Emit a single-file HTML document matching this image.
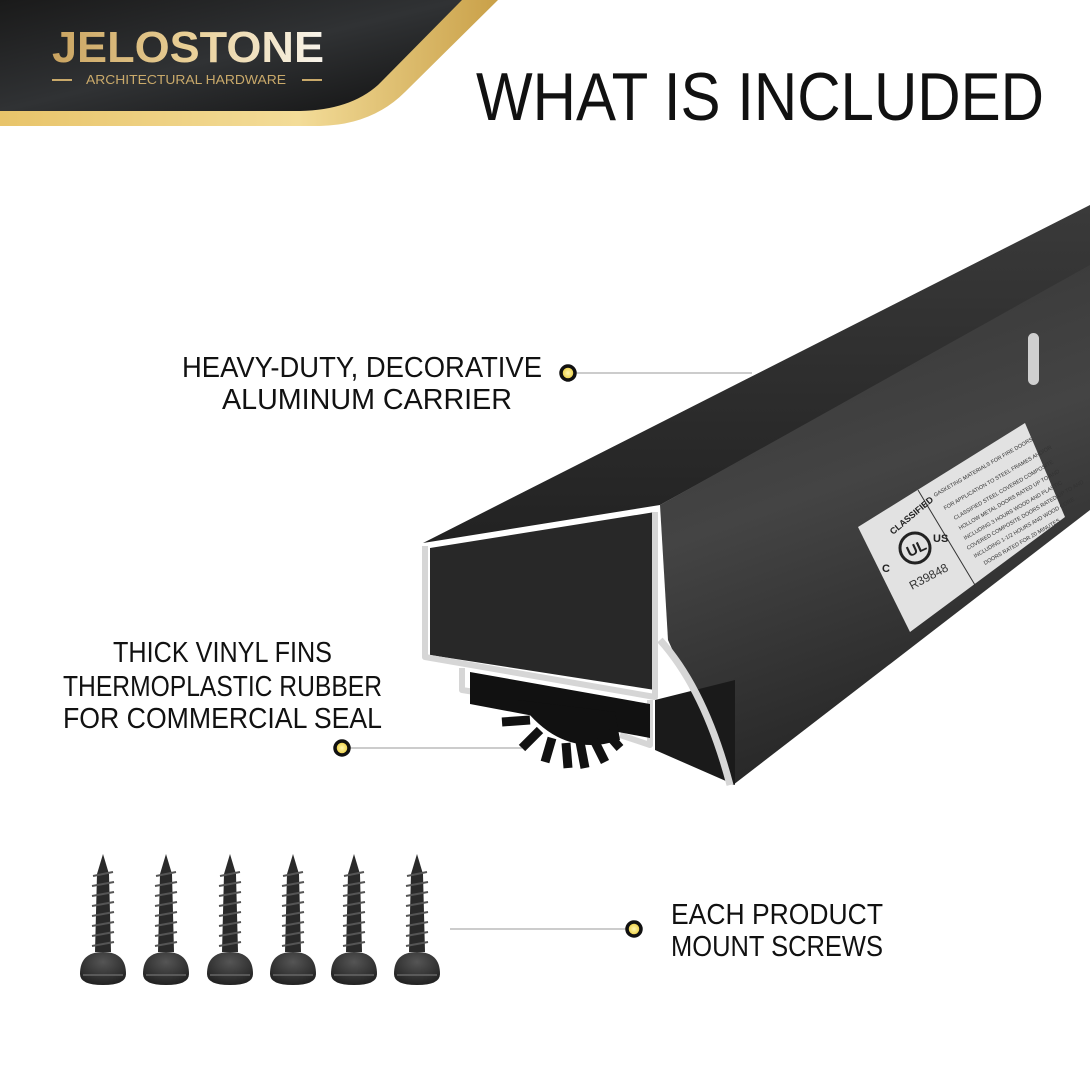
<!DOCTYPE html>
<html><head><meta charset="utf-8"><style>
html,body{margin:0;padding:0;background:#fff;}
svg{display:block;}
text{font-family:"Liberation Sans",sans-serif;}
</style></head><body>
<svg width="1090" height="1090" viewBox="0 0 1090 1090" xmlns="http://www.w3.org/2000/svg">
<defs>
<linearGradient id="gold" x1="0" y1="0" x2="1" y2="0"><stop offset="0" stop-color="#e8c46a"/><stop offset="0.6" stop-color="#f3dc98"/><stop offset="1" stop-color="#c9a048"/></linearGradient>
<linearGradient id="blk" x1="0" y1="0" x2="1" y2="1"><stop offset="0" stop-color="#1a1a1a"/><stop offset="0.5" stop-color="#303234"/><stop offset="1" stop-color="#111"/></linearGradient>
<linearGradient id="logo" x1="0" y1="0" x2="1" y2="0"><stop offset="0" stop-color="#c9a360"/><stop offset="0.5" stop-color="#e9cf96"/><stop offset="1" stop-color="#f8f4ec"/></linearGradient>
<linearGradient id="flap" x1="0" y1="0" x2="0.3" y2="1"><stop offset="0" stop-color="#333"/><stop offset="0.5" stop-color="#444"/><stop offset="1" stop-color="#262626"/></linearGradient>
<linearGradient id="back" x1="0" y1="0" x2="0" y2="1"><stop offset="0" stop-color="#3a3a3a"/><stop offset="1" stop-color="#222"/></linearGradient>
<radialGradient id="dot"><stop offset="0" stop-color="#fff6b0"/><stop offset="1" stop-color="#e8c830"/></radialGradient>
<radialGradient id="head" cx="0.5" cy="0.3" r="0.7"><stop offset="0" stop-color="#555"/><stop offset="1" stop-color="#222"/></radialGradient>
<g id="screw">
<path d="M0,-118 L-6,-98 L-8,-20 L8,-20 L6,-98 Z" fill="#2a2a2a"/>
<g stroke="#555" stroke-width="2">
<line x1="-10" y1="-96" x2="10" y2="-100"/><line x1="-11" y1="-86" x2="11" y2="-90"/><line x1="-11" y1="-76" x2="11" y2="-80"/><line x1="-11" y1="-66" x2="11" y2="-70"/><line x1="-11" y1="-56" x2="11" y2="-60"/><line x1="-11" y1="-46" x2="11" y2="-50"/><line x1="-11" y1="-36" x2="11" y2="-40"/><line x1="-11" y1="-26" x2="11" y2="-30"/>
</g>
<path d="M-23,2 Q-23,-20 0,-20 Q23,-20 23,2 Q23,13 0,13 Q-23,13 -23,2 Z" fill="url(#head)"/>
<line x1="-20" y1="3" x2="20" y2="3" stroke="#666" stroke-width="1.5"/>
</g>
</defs>

<!-- banner -->
<path d="M0,0 L498,0 L405,92 Q372,125 320,126 L0,126 Z" fill="url(#gold)"/>
<path d="M0,0 L462,0 L378,85 Q350,110 300,111 L0,111 Z" fill="url(#blk)"/>
<text x="52" y="62" font-size="44" font-weight="bold" fill="url(#logo)" textLength="272" lengthAdjust="spacingAndGlyphs">JELOSTONE</text>
<text x="86" y="84" font-size="13" fill="#c9a96a" textLength="200" lengthAdjust="spacingAndGlyphs">ARCHITECTURAL HARDWARE</text>
<line x1="52" y1="80" x2="72" y2="80" stroke="#c9a96a" stroke-width="2"/>
<line x1="302" y1="80" x2="322" y2="80" stroke="#c9a96a" stroke-width="2"/>

<text x="476" y="120" font-size="68" fill="#111" textLength="568" lengthAdjust="spacingAndGlyphs">WHAT IS INCLUDED</text>

<!-- product -->
<polygon points="423,543 1090,205 1090,268 660,505" fill="url(#back)"/>
<polygon points="430,548 655,512 655,690 430,655" fill="#282828"/>
<polygon points="660,505 1090,265 1090,510 733,785 668,640" fill="url(#flap)"/>
<polygon points="655,700 735,680 735,785 655,750" fill="#1a1a1a"/>
<rect x="1028" y="333" width="11" height="52" rx="5.5" fill="#cfcfcf"/>
<!-- label -->
<polygon points="858,527 1025,423 1065,517 910,632" fill="#e2e2e2"/>
<line x1="918" y1="490" x2="975" y2="585" stroke="#333" stroke-width="1"/>
<circle cx="915" cy="548" r="15" fill="none" stroke="#222" stroke-width="3"/>
<text x="906" y="554" font-size="15" font-weight="bold" fill="#222" transform="rotate(-25 915 548)">UL</text>
<text x="893" y="535" font-size="9" font-weight="bold" fill="#222" transform="rotate(-40 893 535)">CLASSIFIED</text>
<text x="933" y="542" font-size="11" font-weight="bold" fill="#222">US</text>
<text x="882" y="572" font-size="11" font-weight="bold" fill="#222">C</text>
<text x="912" y="590" font-size="12" fill="#333" transform="rotate(-28 912 590)">R39848</text>
<g font-size="5.5" fill="#333" font-family="Liberation Serif">
<text x="935" y="497" transform="rotate(-30 935 497)">GASKETING MATERIALS FOR FIRE DOORS</text>
<text x="945" y="510" transform="rotate(-30 945 510)">FOR APPLICATION TO STEEL FRAMES AND/OR</text>
<text x="955" y="520" transform="rotate(-30 955 520)">CLASSIFIED STEEL COVERED COMPOSITE</text>
<text x="960" y="530" transform="rotate(-30 960 530)">HOLLOW METAL DOORS RATED UP TO AND</text>
<text x="965" y="540" transform="rotate(-30 965 540)">INCLUDING 3 HOURS WOOD AND PLASTIC</text>
<text x="968" y="550" transform="rotate(-30 968 550)">COVERED COMPOSITE DOORS RATED UP TO AND</text>
<text x="975" y="558" transform="rotate(-30 975 558)">INCLUDING 1-1/2 HOURS AND WOOD CORE</text>
<text x="985" y="565" transform="rotate(-30 985 565)">DOORS RATED FOR 20 MINUTES</text>
</g>
<!-- cross section outline -->
<g fill="none" stroke="#d6d6d6" stroke-width="6" stroke-linejoin="round">
<path d="M425,546 L425,657 L655,697 L655,512"/>
<path d="M462,668 L462,690 L525,700"/>
<path d="M620,735 L650,745 L650,700"/>
<path d="M660,640 Q705,690 730,785" stroke-width="7"/>
</g>
<!-- rubber fins -->
<path d="M470,672 L650,704 L650,738 L470,704 Z" fill="#111"/>
<path d="M518,700 Q560,760 620,740 L615,712 Z" fill="#111"/>
<g stroke="#111" stroke-width="9" stroke-linecap="butt">
<line x1="530" y1="720" x2="502" y2="722"/>
<line x1="540" y1="730" x2="522" y2="748"/>
<line x1="552" y1="738" x2="545" y2="762"/>
<line x1="566" y1="743" x2="568" y2="768"/>
<line x1="580" y1="742" x2="585" y2="768"/>
<line x1="594" y1="740" x2="605" y2="762"/>
<line x1="606" y1="732" x2="620" y2="748"/>
</g>

<!-- callouts -->
<line x1="576" y1="373" x2="752" y2="373" stroke="#999" stroke-width="1"/>
<circle cx="568" cy="373" r="7" fill="url(#dot)" stroke="#111" stroke-width="3.5"/>
<line x1="350" y1="748" x2="522" y2="748" stroke="#999" stroke-width="1"/>
<circle cx="342" cy="748" r="7" fill="url(#dot)" stroke="#111" stroke-width="3.5"/>
<line x1="450" y1="929" x2="626" y2="929" stroke="#999" stroke-width="1"/>
<circle cx="634" cy="929" r="7" fill="url(#dot)" stroke="#111" stroke-width="3.5"/>

<g font-size="29" fill="#111">
<text x="182" y="377" textLength="360" lengthAdjust="spacingAndGlyphs">HEAVY-DUTY, DECORATIVE</text>
<text x="222" y="409" textLength="290" lengthAdjust="spacingAndGlyphs">ALUMINUM CARRIER</text>
<text x="113" y="662" textLength="219" lengthAdjust="spacingAndGlyphs">THICK VINYL FINS</text>
<text x="63" y="696" textLength="319" lengthAdjust="spacingAndGlyphs">THERMOPLASTIC RUBBER</text>
<text x="63" y="728" textLength="319" lengthAdjust="spacingAndGlyphs">FOR COMMERCIAL SEAL</text>
<text x="671" y="924" textLength="212" lengthAdjust="spacingAndGlyphs">EACH PRODUCT</text>
<text x="671" y="956" textLength="212" lengthAdjust="spacingAndGlyphs">MOUNT SCREWS</text>
</g>

<use href="#screw" x="103" y="972"/>
<use href="#screw" x="166" y="972"/>
<use href="#screw" x="230" y="972"/>
<use href="#screw" x="293" y="972"/>
<use href="#screw" x="354" y="972"/>
<use href="#screw" x="417" y="972"/>
</svg>
</body></html>
